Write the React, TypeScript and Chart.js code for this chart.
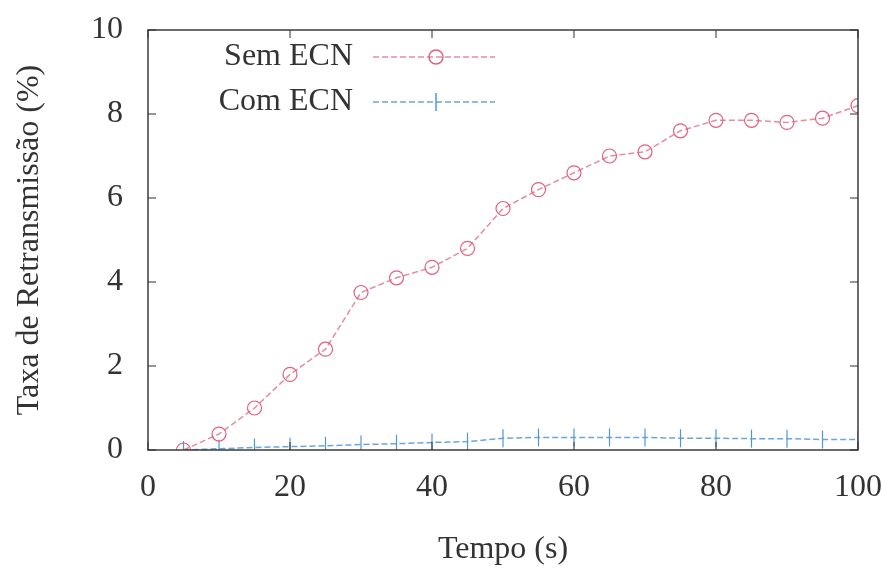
import React, { useEffect, useRef } from "react";
import { Chart, registerables } from "chart.js";

Chart.register(...registerables);

const tempo = [5, 10, 15, 20, 25, 30, 35, 40, 45, 50, 55, 60, 65, 70, 75, 80, 85, 90, 95, 100];
const semECN = [0, 0.38, 1.0, 1.8, 2.4, 3.75, 4.1, 4.35, 4.8, 5.75, 6.2, 6.6, 7.0, 7.1, 7.6, 7.85, 7.85, 7.8, 7.9, 8.2];
const comECN = [0, 0.03, 0.06, 0.08, 0.1, 0.13, 0.15, 0.18, 0.2, 0.28, 0.3, 0.3, 0.3, 0.3, 0.28, 0.28, 0.27, 0.27, 0.25, 0.25];
const xTicks = [0, 20, 40, 60, 80, 100];
const yTicks = [0, 2, 4, 6, 8, 10];
const seriesNames = ["Sem ECN", "Com ECN"];

const FONT = "'Liberation Serif', 'DejaVu Serif', serif";
const FSIZE = 32;
const TEXT = "#333333";
const PINK_LINE = "#e58ca0";
const PINK_PT = "#e0607e";
const BLUE_LINE = "#6aa6dc";
const BLUE_PT = "#4f98cf";

const framePlugin = {
  id: "gnuframe",
  afterDraw(chart: any) {
    const { ctx, chartArea } = chart;
    const { left, right, top, bottom } = chartArea;
    const xs = chart.scales.x;
    const ys = chart.scales.y;
    ctx.save();
    ctx.strokeStyle = "#2e2e2e";
    ctx.lineWidth = 1.4;
    ctx.strokeRect(left, top, right - left, bottom - top);
    ctx.lineWidth = 1;
    const tl = 8;
    ctx.beginPath();
    xTicks.forEach((v) => {
      const px = xs.getPixelForValue(v);
      ctx.moveTo(px, bottom);
      ctx.lineTo(px, bottom - tl);
      ctx.moveTo(px, top);
      ctx.lineTo(px, top + tl);
    });
    yTicks.forEach((v) => {
      const py = ys.getPixelForValue(v);
      ctx.moveTo(left, py);
      ctx.lineTo(left + tl, py);
      ctx.moveTo(right, py);
      ctx.lineTo(right - tl, py);
    });
    ctx.stroke();

    // legend (gnuplot style: text right-aligned, sample to the right)
    const rows = [
      { name: seriesNames[0], y: top + 27, line: PINK_LINE, pt: PINK_PT, kind: "circle" },
      { name: seriesNames[1], y: top + 72, line: BLUE_LINE, pt: BLUE_PT, kind: "bar" },
    ];
    ctx.font = `${FSIZE}px ${FONT}`;
    ctx.textAlign = "right";
    ctx.textBaseline = "middle";
    rows.forEach((r) => {
      ctx.fillStyle = TEXT;
      ctx.fillText(r.name, left + 205, r.y);
      const x0 = left + 225;
      const x1 = left + 347;
      ctx.strokeStyle = r.line;
      ctx.lineWidth = 1.5;
      ctx.setLineDash([6, 3]);
      ctx.beginPath();
      ctx.moveTo(x0, r.y);
      ctx.lineTo(x1, r.y);
      ctx.stroke();
      ctx.setLineDash([]);
      const cx = left + 288;
      ctx.strokeStyle = r.pt;
      ctx.beginPath();
      if (r.kind === "circle") {
        ctx.arc(cx, r.y, 7, 0, Math.PI * 2);
      } else {
        ctx.moveTo(cx, r.y - 9);
        ctx.lineTo(cx, r.y + 9);
      }
      ctx.stroke();
    });
    ctx.restore();
  },
};

export default function App() {
  const ref = useRef<HTMLCanvasElement | null>(null);

  useEffect(() => {
    if (!ref.current) return;
    const chart = new Chart(ref.current, {
      type: "line",
      data: {
        datasets: [
          {
            label: seriesNames[0],
            data: tempo.map((t, i) => ({ x: t, y: semECN[i] })),
            borderColor: PINK_LINE,
            borderWidth: 1.5,
            borderDash: [6, 3],
            pointStyle: "circle",
            pointRadius: 7,
            pointBorderColor: PINK_PT,
            pointBackgroundColor: "rgba(0,0,0,0)",
            pointBorderWidth: 1.2,
            tension: 0,
          },
          {
            label: seriesNames[1],
            data: tempo.map((t, i) => ({ x: t, y: comECN[i] })),
            borderColor: BLUE_LINE,
            borderWidth: 1.5,
            borderDash: [6, 3],
            pointStyle: "line",
            rotation: 90,
            pointRadius: 9,
            pointBorderColor: BLUE_PT,
            pointBorderWidth: 1.2,
            tension: 0,
          },
        ],
      },
      options: {
        animation: false,
        responsive: true,
        maintainAspectRatio: false,
        layout: { padding: { top: 30, right: 25, left: 0, bottom: 0 } },
        plugins: { legend: { display: false }, tooltip: { enabled: false } },
        scales: {
          x: {
            type: "linear",
            min: 0,
            max: 100,
            afterBuildTicks: (s: any) => {
              s.ticks = xTicks.map((v) => ({ value: v }));
            },
            afterFit: (s: any) => {
              s.height = 121;
              s.paddingLeft = 0;
              s.paddingRight = 0;
            },
            grid: { display: false, drawTicks: false },
            border: { display: false },
            ticks: {
              padding: 18,
              color: TEXT,
              font: { family: FONT, size: FSIZE },
              maxRotation: 0,
            },
            title: {
              display: true,
              text: "Tempo (s)",
              color: TEXT,
              font: { family: FONT, size: FSIZE },
              padding: { top: 0, bottom: 2 },
            },
          },
          y: {
            type: "linear",
            min: 0,
            max: 10,
            afterBuildTicks: (s: any) => {
              s.ticks = yTicks.map((v) => ({ value: v }));
            },
            afterFit: (s: any) => {
              s.width = 148;
              s.paddingTop = 0;
              s.paddingBottom = 0;
            },
            grid: { display: false, drawTicks: false },
            border: { display: false },
            ticks: {
              padding: 25,
              color: TEXT,
              font: { family: FONT, size: FSIZE },
            },
            title: {
              display: true,
              text: "Taxa de Retransmissão (%)",
              color: TEXT,
              font: { family: FONT, size: FSIZE },
              padding: { top: 10, bottom: 0 },
            },
          },
        },
      },
      plugins: [framePlugin],
    });
    return () => chart.destroy();
  }, []);

  return (
    <div style={{ position: "fixed", left: 0, top: 0, width: 883, height: 571, background: "#fff" }}>
      <canvas ref={ref} />
    </div>
  );
}
